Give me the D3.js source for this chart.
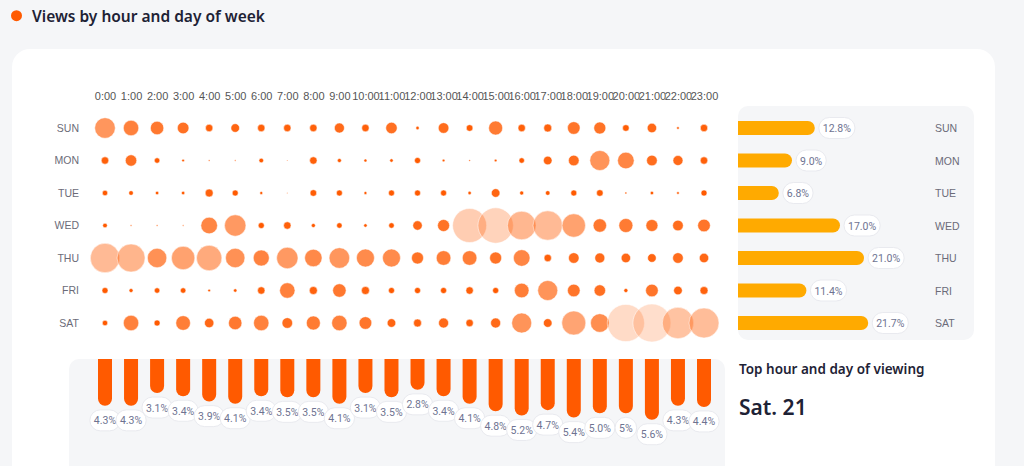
<!DOCTYPE html>
<html><head><meta charset="utf-8">
<script src="https://cdn.jsdelivr.net/npm/d3@7"></script>
<style>body{margin:0;background:#f5f6f8;} svg{display:block}</style>
</head><body><svg id="c" width="1024" height="466"></svg>
<script>
// ---- data ----
const days = ["SUN","MON","TUE","WED","THU","FRI","SAT"];
const hourLabels = ["0:00","1:00","2:00","3:00","4:00","5:00","6:00","7:00","8:00","9:00","10:00","11:00",
  "12:00","13:00","14:00","15:00","16:00","17:00","18:00","19:00","20:00","21:00","22:00","23:00"];
// relative views per hour (index) for each day
const sun = [103,77,67,58,37,43,37,37,37,50,37,57,17,53,33,70,37,40,63,60,33,47,13,37];
const mon = [37,57,27,13,8,7,23,5,37,20,15,17,30,13,8,13,27,43,53,100,83,53,50,37];
const tue = [27,23,17,17,40,30,15,5,33,30,15,30,30,30,17,43,20,23,30,33,10,17,13,30];
const wed = [23,8,8,7,83,107,30,37,20,27,17,27,47,60,170,177,143,147,117,67,70,60,53,63];
const thu = [147,140,97,117,127,97,80,107,87,103,90,90,60,73,73,60,83,37,53,50,47,43,53,47];
const fri = [30,20,27,27,13,17,37,77,40,67,40,30,30,30,37,30,73,100,63,57,20,63,43,40];
const sat = [27,77,30,73,47,67,77,53,70,77,63,43,40,50,37,50,100,43,120,93,186,190,157,150];
const dayShare = [12.8, 9.0, 6.8, 17.0, 21.0, 11.4, 21.7];
const dayShareLabels = ["12.8%","9.0%","6.8%","17.0%","21.0%","11.4%","21.7%"];
const hourShare = [4.3,4.3,3.1,3.4,3.9,4.1,3.4,3.5,3.5,4.1,3.1,3.5,2.8,3.4,4.1,4.8,5.2,4.7,5.4,5.0,5.0,5.6,4.3,4.4];
const hourShareLabels = ["4.3%","4.3%","3.1%","3.4%","3.9%","4.1%","3.4%","3.5%","3.5%","4.1%","3.1%","3.5%",
  "2.8%","3.4%","4.1%","4.8%","5.2%","4.7%","5.4%","5.0%","5%","5.6%","4.3%","4.4%"];
const topLabel = "Sat. 21";

const byDay = [sun, mon, tue, wed, thu, fri, sat];
const cells = [];
byDay.forEach((arr, di) => arr.forEach((v, hi) => cells.push({day: days[di], hour: hourLabels[hi], v})));

// ---- drawing ----
const svg = d3.select("#c");
const ORANGE = "#ff5a00", AMBER = "#ffaa00", DARK = "#1e2235", PILLTXT = "#6e7391";
const sans = "'Noto Sans', 'Open Sans', sans-serif";
const arial = "'Liberation Sans', Arial, sans-serif";
const pillFont = "Roboto, 'Liberation Sans', sans-serif";

// header
svg.append("circle").attr("cx", 16.5).attr("cy", 15.7).attr("r", 5.5).attr("fill", ORANGE);
svg.append("text").attr("x", 32).attr("y", 21.7).text("Views by hour and day of week")
  .attr("font-family", sans).attr("font-weight", 600).attr("font-size", 15.5).attr("fill", DARK);

// white card
svg.append("rect").attr("x", 12).attr("y", 49).attr("width", 983).attr("height", 460).attr("rx", 18).attr("fill", "#fff");

// scales
const x = d3.scalePoint().domain(hourLabels).range([105, 704]);
const y = d3.scalePoint().domain(days).range([128, 323]);
const r = d3.scaleLinear().domain([0, 190]).range([0, 19]);
const op = d3.scaleLinear().domain([30, 190]).range([1, 0.2]).clamp(true);

// axes
const ax = svg.append("g").attr("transform", "translate(0,100)")
  .call(d3.axisTop(x).tickSize(0).tickPadding(0));
ax.select(".domain").remove();
ax.selectAll("text").attr("font-family", arial).attr("font-size", 11).attr("fill", "#555").attr("dy", "0");

const ay = svg.append("g").attr("transform", "translate(79,0)")
  .call(d3.axisLeft(y).tickSize(0).tickPadding(0));
ay.select(".domain").remove();
ay.selectAll("text").attr("font-family", arial).attr("font-size", 10.5).attr("fill", "#6b6b78");

// bubbles
svg.append("g").selectAll("circle").data(cells).join("circle")
  .attr("cx", d => x(d.hour)).attr("cy", d => y(d.day)).attr("r", d => r(d.v))
  .attr("fill", ORANGE).attr("fill-opacity", d => op(d.v))
  .attr("stroke", "#fff").attr("stroke-opacity", 0.5).attr("stroke-width", 1);

// pill helper
function pill(g, cx, top, label, anchorLeft) {
  const gg = g.append("g");
  const t = gg.append("text").text(label).attr("font-family", pillFont).attr("font-size", 10.5)
    .attr("fill", PILLTXT).attr("dominant-baseline", "central");
  const tw = t.node().getComputedTextLength();
  const w = tw + 8, h = 21;
  const left = anchorLeft ? cx : cx - w / 2;
  gg.insert("rect", "text").attr("x", left).attr("y", top).attr("width", w).attr("height", h)
    .attr("rx", h / 2).attr("fill", "#fff").attr("stroke", "#e9eaef").attr("stroke-width", 1);
  t.attr("x", left + w / 2).attr("y", top + h / 2 + 0.5).attr("text-anchor", "middle");
}

// right panel: day share bars
svg.append("rect").attr("x", 738).attr("y", 106).attr("width", 236).attr("height", 234).attr("rx", 10).attr("fill", "#f5f6f8");
const xs = d3.scaleLinear().domain([0, 25]).range([738, 888]);
const bh = 14;
const rg = svg.append("g");
days.forEach((d, i) => {
  const yc = y(d), xe = xs(dayShare[i]), x0 = xs(0);
  rg.append("path").attr("fill", AMBER)
    .attr("d", `M${x0},${yc - bh/2}H${xe - bh/2}A${bh/2},${bh/2} 0 0 1 ${xe - bh/2},${yc + bh/2}H${x0}Z`);
});
days.forEach((d, i) => pill(rg, xs(dayShare[i]) + 4, y(d) - 10.5, dayShareLabels[i], true));
svg.append("g").selectAll("text").data(days).join("text")
  .attr("x", 935).attr("y", d => y(d)).attr("dominant-baseline", "central").text(d => d)
  .attr("font-family", arial).attr("font-size", 10.5).attr("fill", "#6b6b78");

// bottom panel: hour share bars
svg.append("rect").attr("x", 69).attr("y", 359).attr("width", 656).attr("height", 140).attr("rx", 10).attr("fill", "#f5f6f8");
const ys = d3.scaleLinear().domain([0, 6]).range([360, 424]);
const bw = 14;
const bg = svg.append("g");
hourLabels.forEach((h, i) => {
  const xc = x(h), y0 = 359, ye = ys(hourShare[i]);
  bg.append("path").attr("fill", ORANGE)
    .attr("d", `M${xc - bw/2},${y0}V${ye - bw/2}A${bw/2},${bw/2} 0 0 0 ${xc + bw/2},${ye - bw/2}V${y0}Z`);
});
hourLabels.forEach((h, i) => pill(bg, x(h), ys(hourShare[i]) + 4, hourShareLabels[i], false));

// top hour/day
svg.append("text").attr("x", 739).attr("y", 374).text("Top hour and day of viewing")
  .attr("font-family", sans).attr("font-weight", 600).attr("font-size", 13.5).attr("fill", DARK);
svg.append("text").attr("x", 739).attr("y", 415).text(topLabel)
  .attr("font-family", sans).attr("font-weight", 600).attr("font-size", 21).attr("fill", DARK);
</script></body></html>
